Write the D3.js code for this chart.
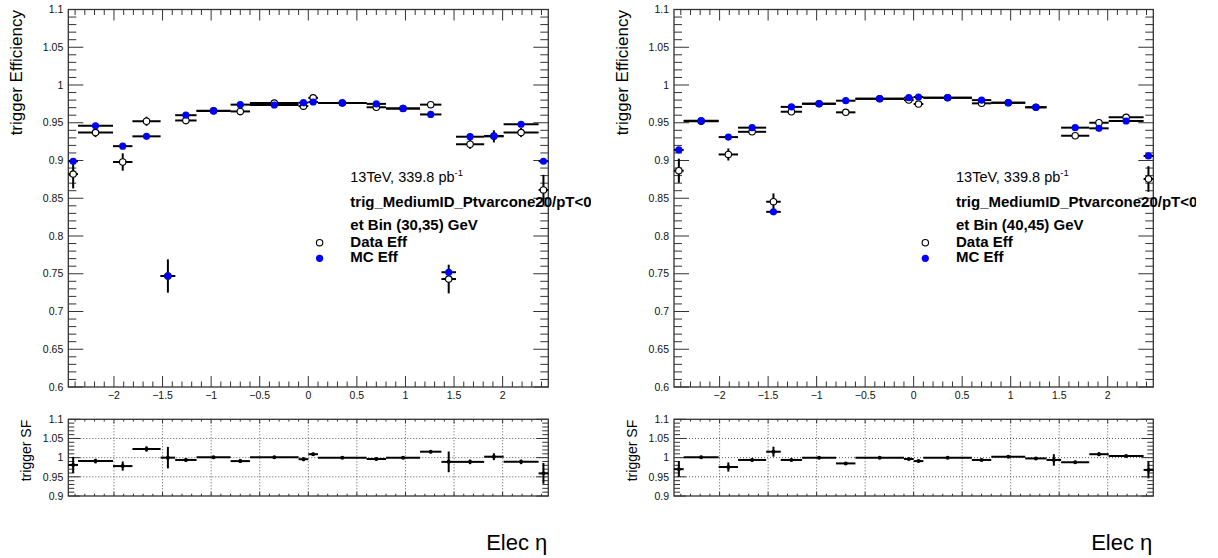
<!DOCTYPE html>
<html><head><meta charset="utf-8">
<script src="https://cdn.jsdelivr.net/npm/d3@7"></script>
<style>body{margin:0;background:#fff}svg{display:block;font-family:"Liberation Sans",Arial,sans-serif}</style>
</head><body>
<script>
// ---- data ----
const etaEdges = [-2.47,-2.37,-2.01,-1.81,-1.52,-1.37,-1.15,-0.8,-0.6,-0.1,0,0.1,0.6,0.8,1.15,1.37,1.52,1.81,2.01,2.37,2.47];

const dataEff30 = [0.882,0.937,0.898,0.952,0.747,0.953,0.966,0.965,0.976,0.972,0.983,0.976,0.9705,0.969,0.974,0.743,0.9215,0.932,0.937,0.861];
const dataErr30 = [0.019,0.006,0.0115,0.006,0.022,0.005,0.003,0.005,0.002,0.005,0.004,0.002,0.004,0.003,0.004,0.019,0.006,0.008,0.006,0.02];
const mcEff30   = [0.899,0.946,0.919,0.932,0.747,0.960,0.9656,0.974,0.9735,0.9766,0.9775,0.9762,0.975,0.969,0.961,0.752,0.9315,0.9325,0.948,0.899];
const mcErr30   = [0.003,0.002,0.002,0.002,0.004,0.002,0.001,0.002,0.001,0.002,0.002,0.001,0.002,0.001,0.002,0.004,0.002,0.002,0.002,0.003];
const sf30      = [0.981,0.991,0.978,1.0226,1.0,0.994,1.001,0.991,1.001,0.996,1.009,1.0,0.9965,1.0,1.0155,0.989,0.989,1.0025,0.989,0.959];
const sfErr30   = [0.021,0.006,0.012,0.007,0.028,0.005,0.003,0.005,0.002,0.005,0.004,0.002,0.004,0.003,0.004,0.027,0.006,0.009,0.006,0.027];

const dataEff40 = [0.8865,0.952,0.908,0.938,0.8454,0.9646,0.9752,0.9638,0.9819,0.980,0.9748,0.9832,0.9757,0.9766,0.9705,null,0.9328,0.950,0.9572,0.8755];
const dataErr40 = [0.016,0.004,0.008,0.004,0.011,0.003,0.002,0.003,0.001,0.003,0.003,0.001,0.002,0.002,0.002,0,0.004,0.005,0.003,0.017];
const mcEff40   = [0.914,0.9527,0.931,0.9435,0.832,0.971,0.9752,0.9792,0.9819,0.9832,0.9841,0.9832,0.980,0.9766,0.9705,null,0.9435,0.9426,0.9523,0.906];
const mcErr40   = [0.003,0.002,0.002,0.002,0.003,0.001,0.001,0.001,0.001,0.001,0.001,0.001,0.001,0.001,0.001,0,0.002,0.002,0.002,0.003];
const sf40      = [0.970,1.001,0.9756,0.994,1.0155,0.994,1.0,0.985,1.0,0.9965,0.991,1.0,0.994,1.0025,0.998,0.994,0.988,1.009,1.004,0.968];
const sfErr40   = [0.02,0.004,0.012,0.004,0.013,0.003,0.002,0.003,0.001,0.003,0.003,0.001,0.002,0.002,0.002,0.015,0.004,0.005,0.003,0.022];

const xMajorTicks = [-2,-1.5,-1,-0.5,0,0.5,1,1.5,2];
const xTickLabels = ["\u22122","\u22121.5","\u22121","\u22120.5","0","0.5","1","1.5","2"];
const effTicks = [0.6,0.65,0.7,0.75,0.8,0.85,0.9,0.95,1,1.05,1.1];
const effTickLabels = ["0.6","0.65","0.7","0.75","0.8","0.85","0.9","0.95","1","1.05","1.1"];
const sfTicks = [0.9,0.95,1,1.05,1.1];
const sfTickLabels = ["0.9","0.95","1","1.05","1.1"];
const sfGrid = [0.95,1,1.05];

const panels = [
  {left:68.3, right:548.3, clipX:591, etBin:"et Bin (30,35) GeV", data:dataEff30, dErr:dataErr30, mc:mcEff30, mErr:mcErr30, sf:sf30, sfErr:sfErr30},
  {left:674,  right:1153.3, clipX:1196, etBin:"et Bin (40,45) GeV", data:dataEff40, dErr:dataErr40, mc:mcEff40, mErr:mcErr40, sf:sf40, sfErr:sfErr40}
];

const W = 1218, H = 558;
const svg = d3.select("body").append("svg").attr("width",W).attr("height",H);
const upTop = 9.5, upBot = 387, loTop = 419.3, loBot = 496;
const axisCol = "#333";

function minorRange(a,b,step){ const out=[]; const n=Math.round((b-a)/step); for(let i=0;i<=n;i++) out.push(+(a+i*step).toFixed(4)); return out; }

panels.forEach((p,pi)=>{
  const g = svg.append("g");
  const x = d3.scaleLinear().domain([-2.47,2.47]).range([p.left,p.right]);
  const y = d3.scaleLinear().domain([0.6,1.1]).range([upBot,upTop]);
  const ys = d3.scaleLinear().domain([0.9,1.1]).range([loBot,loTop]);
  const centers = etaEdges.slice(0,-1).map((e,i)=>(e+etaEdges[i+1])/2);
  const xMinor = minorRange(-2.4,2.4,0.1);

  // ---------- upper frame ----------
  const up = g.append("g");
  const yMinor = minorRange(0.6,1.1,0.01);
  yMinor.forEach(v=>{
    const major = effTicks.some(t=>Math.abs(t-v)<1e-6);
    const L = major?15:8;
    up.append("line").attr("x1",p.left).attr("x2",p.left+L).attr("y1",y(v)).attr("y2",y(v)).attr("stroke",axisCol);
    up.append("line").attr("x1",p.right).attr("x2",p.right-L).attr("y1",y(v)).attr("y2",y(v)).attr("stroke",axisCol);
  });
  xMinor.forEach(v=>{
    const major = xMajorTicks.some(t=>Math.abs(t-v)<1e-6);
    const L = major?11:5.5;
    up.append("line").attr("x1",x(v)).attr("x2",x(v)).attr("y1",upBot).attr("y2",upBot-L).attr("stroke",axisCol);
    up.append("line").attr("x1",x(v)).attr("x2",x(v)).attr("y1",upTop).attr("y2",upTop+L).attr("stroke",axisCol);
  });
  up.append("rect").attr("x",p.left).attr("y",upTop).attr("width",p.right-p.left).attr("height",upBot-upTop)
    .attr("fill","none").attr("stroke",axisCol).attr("stroke-width",1.3);
  effTicks.forEach((v,i)=>{
    up.append("text").attr("x",p.left-5).attr("y",y(v)+3.7).attr("text-anchor","end").attr("font-size",10.5).attr("fill","#111").text(effTickLabels[i]);
  });
  xMajorTicks.forEach((v,i)=>{
    up.append("text").attr("x",x(v)).attr("y",398.5).attr("text-anchor","middle").attr("font-size",10.5).attr("fill","#111").text(xTickLabels[i]);
  });
  up.append("text").attr("transform",`translate(${p.left-46},${upTop+0.5}) rotate(-90)`).attr("text-anchor","end")
    .attr("font-size",17).text("trigger Efficiency");

  // points
  const pts = up.append("g");
  function drawSeries(vals, errs, isMC){
    vals.forEach((v,i)=>{
      if(v===null) return;
      if(v<0.6||v>1.1) return;
      const cx = x(centers[i]), cy = y(v);
      pts.append("line").attr("x1",x(etaEdges[i])).attr("x2",x(etaEdges[i+1])).attr("y1",cy).attr("y2",cy).attr("stroke","#000").attr("stroke-width",2);
      pts.append("line").attr("x1",cx).attr("x2",cx).attr("y1",y(Math.min(1.1,v+errs[i]))).attr("y2",y(Math.max(0.6,v-errs[i]))).attr("stroke","#000").attr("stroke-width",2);
    });
    vals.forEach((v,i)=>{
      if(v===null||v<0.6||v>1.1) return;
      const cx = x(centers[i]), cy = y(v);
      if(isMC) pts.append("circle").attr("cx",cx).attr("cy",cy).attr("r",3.6).attr("fill","#0000ff");
      else pts.append("circle").attr("cx",cx).attr("cy",cy).attr("r",3.2).attr("fill","#fff").attr("stroke","#000").attr("stroke-width",1.1);
    });
  }
  drawSeries(p.data,p.dErr,false);
  drawSeries(p.mc,p.mErr,true);

  // annotations
  const tx = p.left + 282;
  const t1 = up.append("text").attr("x",tx).attr("y",181.7).attr("font-size",14.5);
  t1.append("tspan").text("13TeV, 339.8 pb");
  t1.append("tspan").attr("dy",-6).attr("font-size",9.5).text("-1");
  const clipId = "clip"+pi;
  svg.append("clipPath").attr("id",clipId).append("rect").attr("x",0).attr("y",0).attr("width",p.clipX).attr("height",H);
  up.append("text").attr("x",tx).attr("y",206.7).attr("font-size",15).attr("font-weight","bold").attr("clip-path",`url(#${clipId})`).text("trig_MediumID_Ptvarcone20/pT<0.06");
  up.append("text").attr("x",tx).attr("y",230).attr("font-size",15).attr("font-weight","bold").text(p.etBin);
  up.append("text").attr("x",tx).attr("y",246.7).attr("font-size",15).attr("font-weight","bold").text("Data Eff");
  up.append("text").attr("x",tx).attr("y",261.7).attr("font-size",15).attr("font-weight","bold").text("MC Eff");
  up.append("circle").attr("cx",tx-30.7).attr("cy",242.7).attr("r",3.2).attr("fill","#fff").attr("stroke","#000").attr("stroke-width",1.1);
  up.append("circle").attr("cx",tx-30.7).attr("cy",258.3).attr("r",3.6).attr("fill","#0000ff");

  // ---------- lower frame ----------
  const lo = g.append("g");
  xMajorTicks.forEach(v=>{
    lo.append("line").attr("x1",x(v)).attr("x2",x(v)).attr("y1",loTop).attr("y2",loBot).attr("stroke","#555").attr("stroke-dasharray","1,2");
  });
  sfGrid.forEach(v=>{
    lo.append("line").attr("x1",p.left).attr("x2",p.right).attr("y1",ys(v)).attr("y2",ys(v)).attr("stroke","#555").attr("stroke-dasharray","1,2");
  });
  minorRange(0.9,1.1,0.01).forEach(v=>{
    const major = sfTicks.some(t=>Math.abs(t-v)<1e-6);
    const L = major?12:6;
    lo.append("line").attr("x1",p.left).attr("x2",p.left+L).attr("y1",ys(v)).attr("y2",ys(v)).attr("stroke",axisCol);
    lo.append("line").attr("x1",p.right).attr("x2",p.right-L).attr("y1",ys(v)).attr("y2",ys(v)).attr("stroke",axisCol);
  });
  xMinor.forEach(v=>{
    const major = xMajorTicks.some(t=>Math.abs(t-v)<1e-6);
    const L = major?4:2.3;
    lo.append("line").attr("x1",x(v)).attr("x2",x(v)).attr("y1",loBot).attr("y2",loBot-L).attr("stroke",axisCol);
    lo.append("line").attr("x1",x(v)).attr("x2",x(v)).attr("y1",loTop).attr("y2",loTop+L).attr("stroke",axisCol);
  });
  lo.append("rect").attr("x",p.left).attr("y",loTop).attr("width",p.right-p.left).attr("height",loBot-loTop)
    .attr("fill","none").attr("stroke",axisCol).attr("stroke-width",1.3);
  sfTicks.forEach((v,i)=>{
    lo.append("text").attr("x",p.left-5).attr("y",ys(v)+3.7).attr("text-anchor","end").attr("font-size",10.5).attr("fill","#111").text(sfTickLabels[i]);
  });
  lo.append("text").attr("transform",`translate(${p.left-37.5},${loTop+0.5}) rotate(-90)`).attr("text-anchor","end")
    .attr("font-size",14).text("trigger SF");
  p.sf.forEach((v,i)=>{
    const cx = x(centers[i]), cy = ys(v);
    lo.append("line").attr("x1",x(etaEdges[i])).attr("x2",x(etaEdges[i+1])).attr("y1",cy).attr("y2",cy).attr("stroke","#000").attr("stroke-width",2);
    lo.append("line").attr("x1",cx).attr("x2",cx).attr("y1",ys(v+p.sfErr[i])).attr("y2",ys(v-p.sfErr[i])).attr("stroke","#000").attr("stroke-width",2);
    lo.append("circle").attr("cx",cx).attr("cy",cy).attr("r",2).attr("fill","#000");
  });

  // x title
  g.append("text").attr("x",p.right-1).attr("y",550).attr("text-anchor","end").attr("font-size",22).text("Elec \u03b7");
});
</script>
</body></html>
